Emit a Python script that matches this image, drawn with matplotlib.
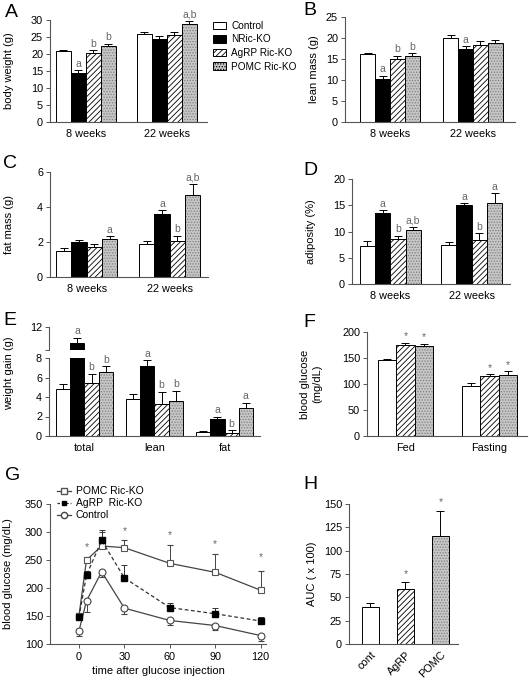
import matplotlib
matplotlib.use("Agg")
import matplotlib.pyplot as plt
from matplotlib.patches import Patch
from matplotlib.lines import Line2D
import numpy as np

plt.rcParams["font.family"] = ["Liberation Sans", "DejaVu Sans"]
plt.rcParams["hatch.linewidth"] = 0.6

W, H = 529, 681

# ---- data ----
ages = ["8 weeks", "22 weeks"]
genotypes = ["Control", "NRic-KO", "AgRP Ric-KO", "POMC Ric-KO"]

# A: body weight (g), rows = genotype, cols = age
bw_mean = [[21.0, 25.8], [14.4, 24.4], [20.4, 25.7], [22.3, 28.8]]
bw_err = [[0.3, 0.6], [0.9, 0.8], [0.8, 0.7], [0.7, 1.0]]
bw_marks = [["", ""], ["a", ""], ["b", ""], ["b", "a,b"]]

# B: lean mass (g)
lean_mean = [[16.1, 20.1], [10.2, 17.5], [15.0, 18.3], [15.6, 18.9]]
lean_err = [[0.4, 0.5], [0.8, 0.6], [0.8, 1.1], [0.8, 0.7]]
lean_marks = [["", ""], ["a", "a"], ["b", ""], ["b", ""]]

# C: fat mass (g)
fat_mean = [[1.49, 1.90], [1.98, 3.62], [1.71, 2.04], [2.15, 4.70]]
fat_err = [[0.19, 0.14], [0.12, 0.19], [0.16, 0.32], [0.17, 0.60]]
fat_marks = [["", ""], ["", "a"], ["", "b"], ["a", "a,b"]]

# D: adiposity (%)
adi_mean = [[7.2, 7.4], [13.5, 15.0], [8.5, 8.4], [10.2, 15.4]]
adi_err = [[0.9, 0.6], [0.6, 0.4], [0.7, 1.3], [0.7, 1.9]]
adi_marks = [["", ""], ["a", "a"], ["b", "b"], ["a,b", "a"]]

# E: weight gain (g)
gain_cats = ["total", "lean", "fat"]
gain_mean = [[4.83, 3.83, 0.38], [10.4, 7.17, 1.72], [5.45, 3.31, 0.28], [6.59, 3.55, 2.83]]
gain_err = [[0.55, 0.51, 0.14], [0.5, 0.59, 0.25], [0.93, 1.24, 0.34], [0.58, 1.11, 0.58]]
gain_marks = [["", "", ""], ["a", "a", "a"], ["b", "b", "b"], ["b", "b", "a"]]

# F: blood glucose (mg/dL)
glu_cats = ["Fed", "Fasting"]
glu_groups = ["Control", "AgRP Ric-KO", "POMC Ric-KO"]
glu_mean = [[145.7, 97.0], [174.4, 116.0], [173.0, 117.0]]
glu_err = [[2.0, 4.0], [5.0, 3.0], [4.5, 8.0]]
glu_marks = [["", ""], ["*", "*"], ["*", "*"]]

# G: glucose tolerance test
gtt_time = [0, 5, 15, 30, 60, 90, 120]
gtt_pomc = [150, 250, 275, 272, 244, 228, 196]
gtt_pomc_err = [5, 6, 25, 13, 32, 32, 35]
gtt_agrp = [148, 223, 285, 218, 165, 154, 141]
gtt_agrp_err = [5, 8, 18, 23, 8, 10, 8]
gtt_ctrl = [123, 177, 229, 164, 142, 133, 115]
gtt_ctrl_err = [8, 20, 10, 10, 8, 8, 10]
gtt_star_time = [5, 30, 60, 90, 120]
gtt_star_y = [265, 292, 285, 270, 246]

# H: AUC
auc_labels = ["cont", "AgRP", "POMC"]
auc_groups = ["Control", "AgRP Ric-KO", "POMC Ric-KO"]
auc_mean = [40.0, 58.6, 115.7]
auc_err = [3.6, 7.8, 27.2]
auc_marks = ["", "*", "*"]

STYLE = {
    "Control": dict(face="white", hatch=None, hcolor="black"),
    "NRic-KO": dict(face="black", hatch=None, hcolor="black"),
    "AgRP Ric-KO": dict(face="white", hatch="//////", hcolor="black"),
    "POMC Ric-KO": dict(face="#c6c6c6", hatch="......", hcolor="#808080"),
}
AXC = "#555555"
MARKC = "#666666"

fig = plt.figure(figsize=(W / 100, H / 100), dpi=100)


def ax_at(l, t, r, b):
    return fig.add_axes([l / W, 1 - b / H, (r - l) / W, (b - t) / H])


def style(ax):
    for s in ["top", "right"]:
        ax.spines[s].set_visible(False)
    for s in ["left", "bottom"]:
        ax.spines[s].set_color(AXC)
        ax.spines[s].set_linewidth(0.8)
    ax.tick_params(axis="both", labelsize=7.8, length=3, width=0.7, color=AXC, pad=2)


def draw_bar(ax, xs, h, e, name, width):
    st = STYLE[name]
    ax.bar(xs, h, width, color=st["face"], edgecolor=st["hcolor"], hatch=st["hatch"], linewidth=0)
    ax.bar(xs, h, width, fill=False, edgecolor="black", linewidth=0.7)
    ax.errorbar(xs, h, yerr=[np.zeros(len(h)), e], fmt="none", ecolor="black",
                elinewidth=0.7, capsize=2.8, capthick=0.7)


def mark(ax, x, y, t):
    if t:
        ax.annotate(t, (x, y), xytext=(0, 1), textcoords="offset points",
                    ha="center", va="bottom", fontsize=7.5, color=MARKC)


def grouped(ax, names, means, errs, marks, cats, width):
    n = len(names)
    x0 = np.arange(len(cats))
    for i, name in enumerate(names):
        xs = x0 + (i - (n - 1) / 2) * width
        draw_bar(ax, xs, means[i], errs[i], name, width)
        for x, m, e, t in zip(xs, means[i], errs[i], marks[i]):
            mark(ax, x, m + e, t)
    ax.set_xticks(x0)
    ax.set_xticklabels(cats)
    ax.tick_params(axis="x", length=0, pad=5)


def ylabel(ax, text, px, l, r):
    ax.set_ylabel(text, fontsize=8)
    ax.yaxis.set_label_coords((px - l) / (r - l), 0.5)


# ---- A ----
ax = ax_at(50, 20, 207, 122)
style(ax)
grouped(ax, genotypes, bw_mean, bw_err, bw_marks, ages, 0.185)
ax.set_xlim(-0.444, 1.494)
ax.set_ylim(0, 30)
ax.set_yticks(range(0, 31, 5))
ylabel(ax, "body weight (g)", 14, 50, 207)
handles = [Patch(facecolor=STYLE[g]["face"], edgecolor="black", hatch=STYLE[g]["hatch"],
                 linewidth=0.7) for g in genotypes]
fig.legend(handles, genotypes, loc="upper left", bbox_to_anchor=(209 / W, 1 - 17 / H),
           frameon=False, fontsize=7.2, handlelength=1.3, handleheight=0.8,
           handletextpad=0.5, labelspacing=0.35, borderaxespad=0)

# ---- B ----
ax = ax_at(345, 17, 515, 122)
style(ax)
grouped(ax, genotypes, lean_mean, lean_err, lean_marks, ages, 0.18)
ax.set_xlim(-0.542, 1.506)
ax.set_ylim(0, 25)
ax.set_yticks(range(0, 26, 5))
ylabel(ax, "lean mass (g)", 319, 345, 515)

# ---- C ----
ax = ax_at(50, 172, 208, 277)
style(ax)
grouped(ax, genotypes, fat_mean, fat_err, fat_marks, ages, 0.184)
ax.set_xlim(-0.44, 1.46)
ax.set_ylim(0, 6)
ax.set_yticks(range(0, 7, 2))
ylabel(ax, "fat mass (g)", 14, 50, 208)

# ---- D ----
ax = ax_at(352, 179, 510, 284)
style(ax)
grouped(ax, genotypes, adi_mean, adi_err, adi_marks, ages, 0.187)
ax.set_xlim(-0.47, 1.47)
ax.set_ylim(0, 20)
ax.set_yticks(range(0, 21, 5))
ylabel(ax, "adiposity (%)", 316, 352, 510)

# ---- E (broken axis) ----
axl = ax_at(49, 358, 260, 436)
axu = ax_at(49, 327, 260, 350)
for a in (axl, axu):
    style(a)
    grouped(a, genotypes, gain_mean, gain_err, gain_marks, gain_cats, 0.203)
    a.set_xlim(-0.507, 2.507)
axl.set_ylim(0, 8)
axl.set_yticks(range(0, 9, 2))
axu.set_ylim(12 - 23 / 9.75, 12)
axu.set_yticks([12 - 23 / 9.75, 12])
axu.set_yticklabels(["", "12"])
axu.spines["bottom"].set_visible(False)
axu.tick_params(axis="x", labelbottom=False)
# keep each half from repeating the other half's marks
for t in list(axu.texts):
    if t.xy[1] < 9:
        t.remove()
for t in list(axl.texts):
    if t.xy[1] > 8:
        t.remove()
axl.set_ylabel("weight gain (g)", fontsize=8)
axl.yaxis.set_label_coords((14 - 49) / 211, 0.8)

# ---- F ----
ax = ax_at(367, 332, 527, 436)
style(ax)
grouped(ax, glu_groups, glu_mean, glu_err, glu_marks, glu_cats, 0.218)
ax.set_xlim(-0.458, 1.446)
ax.set_ylim(0, 200)
ax.set_yticks(range(0, 201, 50))
ylabel(ax, "blood glucose\n(mg/dL)", 322, 367, 527)

# ---- G ----
ax = ax_at(50, 504, 266, 644)
style(ax)
ax.errorbar(gtt_time, gtt_pomc, yerr=[np.zeros(7), gtt_pomc_err], color="#444444",
            lw=0.9, marker="s", ms=5, mfc="white", mec="#555555", mew=0.8,
            ecolor="#444444", elinewidth=0.7, capsize=2.5, capthick=0.7, zorder=3)
ax.errorbar(gtt_time, gtt_agrp, yerr=[np.zeros(7), gtt_agrp_err], color="#333333",
            lw=0.9, ls=(0, (3, 2)), marker="s", ms=4, mfc="black", mec="black",
            ecolor="#333333", elinewidth=0.7, capsize=2.5, capthick=0.7, zorder=4)
ax.errorbar(gtt_time, gtt_ctrl, yerr=[gtt_ctrl_err, np.zeros(7)], color="#444444",
            lw=0.9, marker="o", ms=5, mfc="white", mec="#444444", mew=0.8,
            ecolor="#444444", elinewidth=0.7, capsize=2.5, capthick=0.7, zorder=3)
for tx, ty in zip(gtt_star_time, gtt_star_y):
    ax.text(tx, ty, "*", ha="center", va="bottom", fontsize=7.5, color=MARKC)
ax.set_xlim(-19.1, 123.5)
ax.set_ylim(100, 350)
ax.set_xticks([0, 30, 60, 90, 120])
ax.set_yticks(range(100, 351, 50))
ax.tick_params(axis="x", pad=3)
ax.set_xlabel("time after glucose injection", fontsize=8, labelpad=3)
ylabel(ax, "blood glucose (mg/dL)", 13, 50, 266)
g_handles = [
    Line2D([], [], color="#444444", lw=0.9, marker="s", ms=4.5, mfc="white", mec="#555555"),
    Line2D([], [], color="#333333", lw=0.9, ls=(0, (2, 1.5)), marker="s", ms=3.5,
           mfc="black", mec="black"),
    Line2D([], [], color="#444444", lw=0.9, marker="o", ms=4.5, mfc="white", mec="#444444"),
]
ax.legend(g_handles, ["POMC Ric-KO", "AgRP  Ric-KO", "Control"], loc="upper left",
          bbox_to_anchor=(53 / W, 1 - 482 / H), bbox_transform=fig.transFigure,
          frameon=False, fontsize=7.5, handlelength=1.3, handletextpad=0.5,
          labelspacing=0.2, borderaxespad=0)

# ---- H ----
ax = ax_at(349, 504, 458, 644)
style(ax)
xs = np.arange(len(auc_labels))
for i, g in enumerate(auc_groups):
    draw_bar(ax, [xs[i]], [auc_mean[i]], [auc_err[i]], g, 0.5)
    mark(ax, xs[i], auc_mean[i] + auc_err[i] + 2, auc_marks[i])
ax.set_xticks(xs)
ax.set_xticklabels(auc_labels, rotation=45, ha="right", rotation_mode="anchor")
ax.tick_params(axis="x", length=0, pad=4)
ax.set_xlim(-0.614, 2.5)
ax.set_ylim(0, 150)
ax.set_yticks(range(0, 151, 25))
ylabel(ax, "AUC ( x 100)", 317, 349, 458)

# ---- panel letters ----
for letter, px, py in [("A", 5, 4), ("B", 303, 2), ("C", 3, 155), ("D", 303, 162),
                       ("E", 3, 312), ("F", 303, 314), ("G", 5, 467), ("H", 303, 476)]:
    fig.text(px / W, 1 - py / H, letter, fontsize=14, va="top", ha="left")

fig.savefig("out.png", dpi=100)
